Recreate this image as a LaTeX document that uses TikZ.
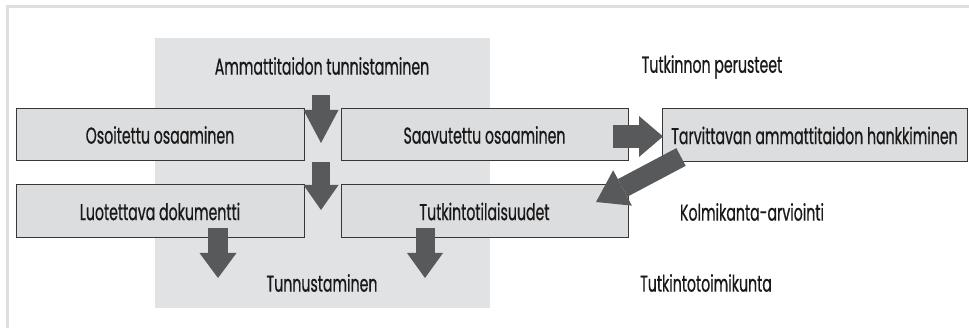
\documentclass[tikz,border=0pt]{standalone}
\usepackage{fontspec}
\setmainfont{Poppins}[FakeStretch=0.615, FakeBold=0.6]
\usetikzlibrary{arrows.meta}
\definecolor{bggray}{RGB}{225,226,228}
\definecolor{boxfill}{RGB}{220,221,223}
\definecolor{boxline}{RGB}{55,55,55}
\definecolor{arrowgray}{RGB}{88,89,91}
\definecolor{framegray}{RGB}{222,223,224}
\definecolor{txt}{RGB}{25,25,25}
\tikzset{
  box/.style={draw=boxline, fill=boxfill, line width=1pt, inner sep=0pt, minimum height=52pt, text=txt, font=\fontsize{23}{26}\selectfont},
  lbl/.style={inner sep=0pt, text=txt, font=\fontsize{23}{26}\selectfont},
  fat/.style n args={3}{draw=arrowgray, line width=#1, -{Triangle[length=#3, width=#2, line width=0pt]}},
}
\begin{document}
\begin{tikzpicture}[x=1pt,y=-1pt]
\useasboundingbox (0,0) rectangle (969,328);
% frame
\draw[framegray, line width=3pt] (7,328) -- (7,7) -- (969,7);
% background area
\fill[bggray] (155,38) rectangle (490,308);
% labels
\node[lbl] (amm) at (322,66) {Ammattitaidon tunnistaminen};
\node[lbl] (tper) at (712,67) {Tutkinnon perusteet};
\node[lbl] (kolm) at (752,212) {Kolmikanta-arviointi};
\node[lbl] (ttoim) at (706,283) {Tutkintotoimikunta};
\node[lbl] (tunn) at (322,283) {Tunnustaminen};
% boxes
\node[box, minimum width=288pt] (osa) at (160,135) {Osoitettu osaaminen};
\node[box, minimum width=287pt] (saa) at (484.5,135) {Saavutettu osaaminen};
\node[box, minimum width=305pt, minimum height=53pt] (tar) at (814.5,135.5) {Tarvittavan ammattitaidon hankkiminen};
\node[box, minimum width=288pt, minimum height=53pt] (luo) at (160,211.5) {Luotettava dokumentti};
\node[box, minimum width=287pt, minimum height=53pt] (tut) at (484.5,211.5) {Tutkintotilaisuudet};
% arrow end points
\coordinate (a1s) at (321,95);  \coordinate (a1e) at (321,143);
\coordinate (a2s) at (321,162); \coordinate (a2e) at (321,210);
\coordinate (a3s) at (218,228); \coordinate (a3e) at (218,278);
\coordinate (a4s) at (425,228); \coordinate (a4e) at (425,278);
\coordinate (a5s) at (613,136.5); \coordinate (a5e) at (663,136.5);
\coordinate (a6s) at (681,157); \coordinate (a6e) at (596,202);
% arrows
\draw[fat={18pt}{35pt}{33pt}] (a1s) -- (a1e);
\draw[fat={18pt}{35pt}{25pt}] (a2s) -- (a2e);
\draw[fat={20pt}{37pt}{25pt}] (a3s) -- (a3e);
\draw[fat={19pt}{36pt}{25pt}] (a4s) -- (a4e);
\draw[fat={23pt}{41pt}{24pt}] (a5s) -- (a5e);
\draw[fat={20pt}{40pt}{30pt}] (a6s) -- (a6e);
\end{tikzpicture}
\end{document}
